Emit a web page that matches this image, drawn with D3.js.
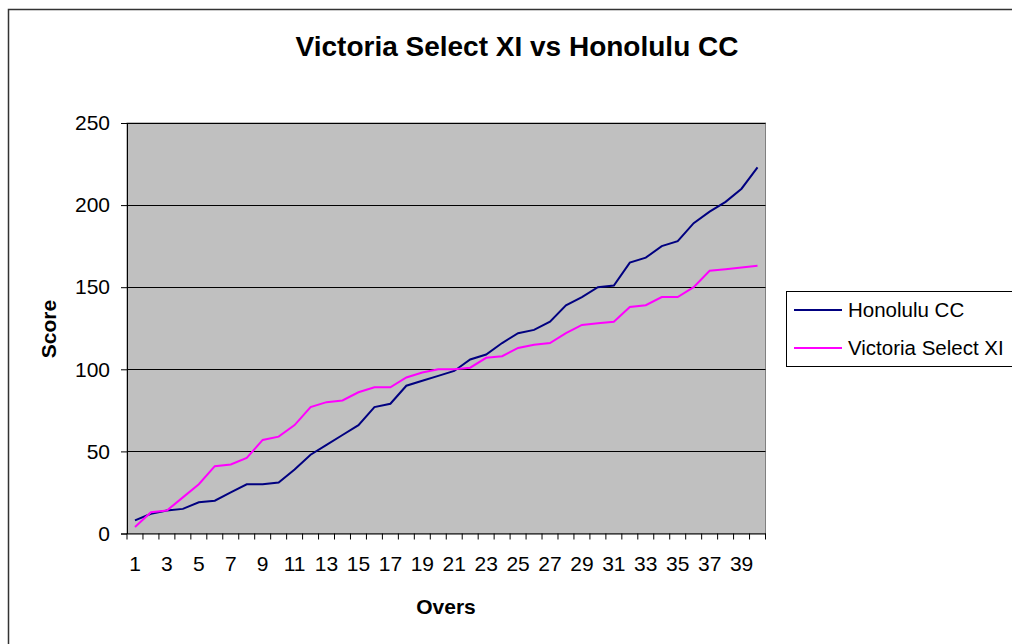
<!DOCTYPE html>
<html><head><meta charset="utf-8">
<script src="https://cdn.jsdelivr.net/npm/d3@7"></script>
<style>body{margin:0;background:#fff;} svg{display:block;font-family:"Liberation Sans",Arial,sans-serif;}</style>
</head><body>
<svg id="c" width="1012" height="644"></svg>
<script>
const overs = d3.range(1, 41);
const honolulu = [8,12,14,15,19,20,25,30,30,31,39,48,54,60,66,77,79,90,93,96,99,106,109,116,122,124,129,139,144,150,151,165,168,175,178,189,196,202,210,223];
const victoria = [4,13,14,22,30,41,42,46,57,59,66,77,80,81,86,89,89,95,98,100,100,101,107,108,113,115,116,122,127,128,129,138,139,144,144,150,160,161,162,163];
const yTicks = [0,50,100,150,200,250];
const seriesNames = ["Honolulu CC","Victoria Select XI"];
const colors = ["#000080","#ff00ff"];

const svg = d3.select("#c");
const FF = "Liberation Sans, Arial, sans-serif";
// outer frame
svg.append("rect").attr("x",8.5).attr("y",9.5).attr("width",1100).attr("height",700)
  .attr("fill","none").attr("stroke","#333").attr("stroke-width",1.5);

const L=127, R=765.5, T=123, B=533.5;
const x = d3.scaleBand().domain(overs).range([L,R]);
const y = d3.scaleLinear().domain([0,250]).range([B,T]);

svg.append("rect").attr("x",L).attr("y",T).attr("width",R-L).attr("height",B-T)
  .attr("fill","#c0c0c0").attr("stroke","#808080").attr("stroke-width",1);

// grid
svg.append("g").selectAll("line").data(yTicks.filter(d=>d>0)).join("line")
  .attr("x1",L).attr("x2",R).attr("y1",d=>Math.round(y(d))+0.5).attr("y2",d=>Math.round(y(d))+0.5)
  .attr("stroke","#000").attr("stroke-width",1);

// y axis
const ya = svg.append("g").attr("transform",`translate(${L},0)`)
  .call(d3.axisLeft(y).tickValues(yTicks).tickSize(6).tickPadding(11));
ya.select(".domain").attr("stroke","#000");
ya.selectAll("text").attr("font-size",21).attr("fill","#000").attr("font-family",FF);

// x axis
const xa = svg.append("g").attr("transform",`translate(0,${B})`)
  .call(d3.axisBottom(x).tickSize(0).tickPadding(23).tickFormat(d=> d%2===1 ? d : ""));
xa.select(".domain").attr("stroke","#000");
xa.selectAll("text").attr("font-size",21).attr("fill","#000").attr("font-family",FF);
// tick marks at band boundaries
const bounds = overs.map(d=>x(d)).concat([R]);
svg.append("g").selectAll("line").data(bounds).join("line")
  .attr("x1",d=>d).attr("x2",d=>d).attr("y1",B).attr("y2",B+6).attr("stroke","#000");

// lines
const cx = d=>x(d)+x.bandwidth()/2;
[honolulu, victoria].forEach((s,i)=>{
  svg.append("path").datum(s)
    .attr("d", d3.line().x((d,j)=>cx(overs[j])).y(d=>y(d)))
    .attr("fill","none").attr("stroke",colors[i]).attr("stroke-width",2);
});

// title
svg.append("text").attr("x",517).attr("y",56).attr("text-anchor","middle")
  .attr("font-size",28).attr("font-weight","bold").text("Victoria Select XI vs Honolulu CC");
svg.append("text").attr("x",446).attr("y",614).attr("text-anchor","middle")
  .attr("font-size",21).attr("font-weight","bold").text("Overs");
svg.append("text").attr("transform","translate(56,329) rotate(-90)").attr("text-anchor","middle")
  .attr("font-size",21).attr("font-weight","bold").text("Score");

// legend
const lg = svg.append("g");
lg.append("rect").attr("x",786.5).attr("y",291.5).attr("width",300).attr("height",75)
  .attr("fill","#fff").attr("stroke","#000").attr("stroke-width",1);
seriesNames.forEach((n,i)=>{
  const yy = 310 + i*38;
  lg.append("line").attr("x1",794).attr("x2",842).attr("y1",yy).attr("y2",yy)
    .attr("stroke",colors[i]).attr("stroke-width",2);
  lg.append("text").attr("x",848).attr("y",yy+7).attr("font-size",20.5).text(n);
});
</script>
</body></html>
